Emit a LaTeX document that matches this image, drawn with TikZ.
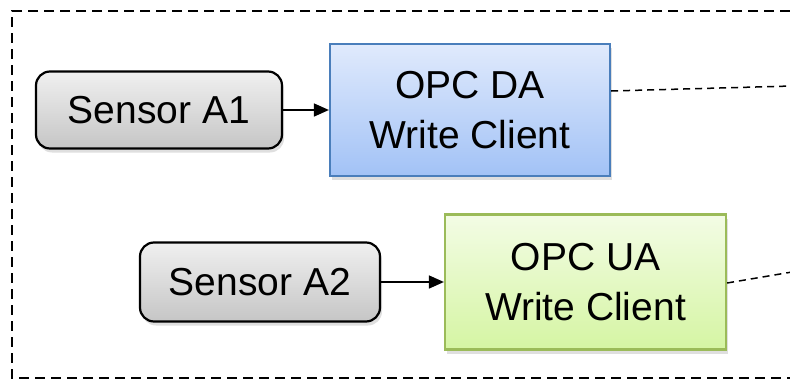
\documentclass[tikz,border=0pt]{standalone}
\usepackage{fontspec}
\setmainfont{Liberation Sans}
\usepackage{tikz}
\usetikzlibrary{arrows.meta,shadows}

\definecolor{daedge}{HTML}{4A7EBB}
\definecolor{uaedge}{HTML}{9BBB59}

\begin{document}
\begin{tikzpicture}[
    x=1pt, y=-1pt,
    every node/.style={font=\fontsize{39}{50}\selectfont, align=center},
    sensor/.style={rounded corners=14pt, draw=black, line width=2.2pt,
                   top color=gray!12, bottom color=gray!45,
                   drop shadow={opacity=0.25, shadow xshift=2pt, shadow yshift=-4pt},
                   inner sep=0pt},
    dabox/.style={draw=daedge, line width=2.2pt,
                  top color={rgb,255:red,224;green,234;blue,252},
                  bottom color={rgb,255:red,162;green,194;blue,246},
                  drop shadow={opacity=0.25, shadow xshift=2pt, shadow yshift=-4pt},
                  inner sep=0pt},
    uabox/.style={draw=uaedge, line width=2.2pt,
                  top color={rgb,255:red,243;green,252;blue,229},
                  bottom color={rgb,255:red,213;green,245;blue,163},
                  drop shadow={opacity=0.25, shadow xshift=2pt, shadow yshift=-4pt},
                  inner sep=0pt},
    feed/.style={-{Triangle[length=15pt, width=13pt]}, line width=1.6pt},
    uplink/.style={line width=1.5pt, dash pattern=on 7pt off 5pt},
    frame/.style={line width=2.2pt, dash pattern=on 10pt off 6pt}
]
\useasboundingbox (0,0) rectangle (790,380);

% outer boundary, open to the right
\draw[frame] (790,11) -- (12,11) -- (12,378) -- (790,378);

% first line
\node[sensor, minimum width=246pt, minimum height=77pt] (sensA1) at (159,110) {Sensor A1};
\node[dabox, minimum width=280pt, minimum height=132pt] (opcDA) at (470,110) {OPC DA\\Write Client};
\coordinate (outDA) at (792,86);

% second line
\node[sensor, minimum width=240pt, minimum height=79pt] (sensA2) at (260,282) {Sensor A2};
\node[uabox, minimum width=281pt, minimum height=135pt] (opcUA) at (585.5,282) {OPC UA\\Write Client};
\coordinate (outUA) at (792,272);

\draw[feed] (sensA1) -- (opcDA);
\draw[feed] (sensA2) -- (opcUA);
\draw[uplink] (opcDA.east |- 0,91) -- (outDA);
\draw[uplink] (opcUA.east |- 0,283) -- (outUA);
\end{tikzpicture}
\end{document}
